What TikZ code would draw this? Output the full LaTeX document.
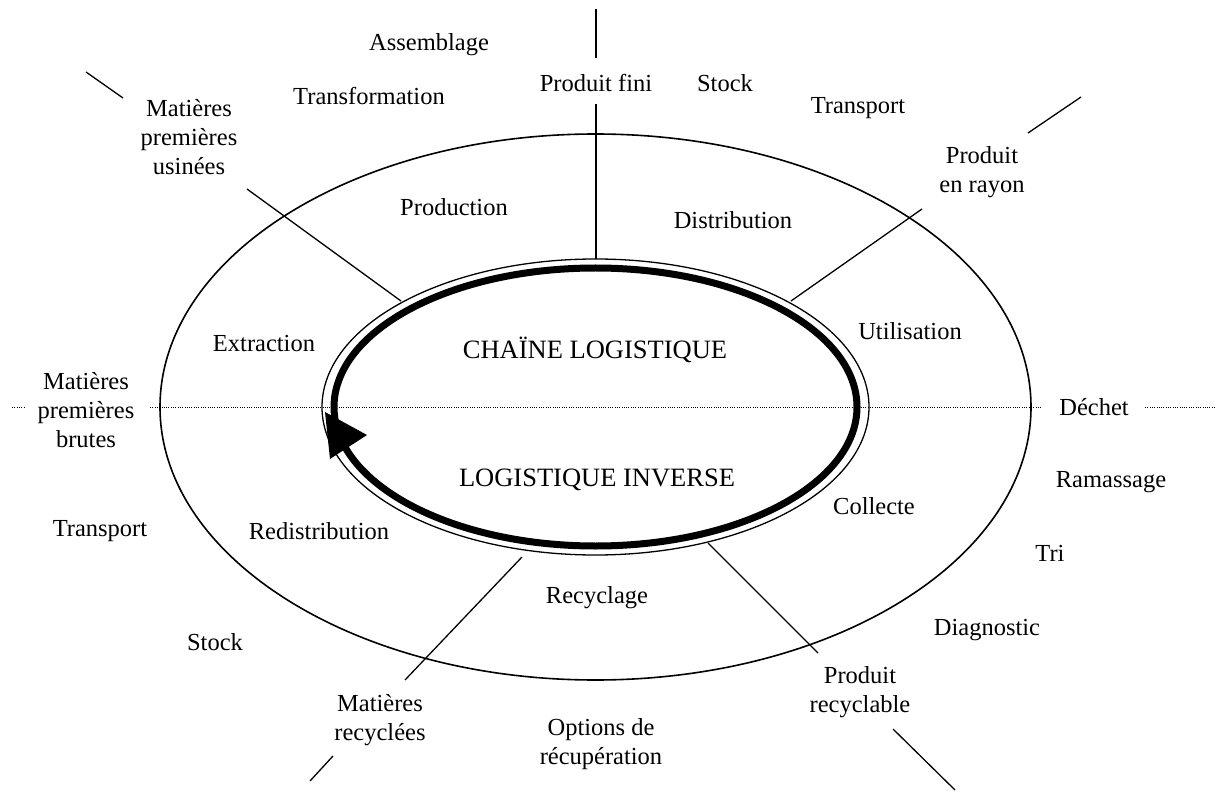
\documentclass[tikz,border=0pt]{standalone}
\usepackage{fontspec}
\setmainfont{Liberation Serif}
\begin{document}
\begin{tikzpicture}[x=1pt,y=-1pt,
  lbl/.style={font=\fontsize{24.5}{29}\selectfont, align=center, inner sep=0pt},
  biglbl/.style={font=\fontsize{26.5}{30}\selectfont, align=center, inner sep=0pt},
  spoke/.style={line width=1.3pt},
  ring/.style={line width=1.6pt},
  dotline/.style={line width=0.9pt, dash pattern=on 0.9pt off 1.4pt}
]
\useasboundingbox (0,0) rectangle (1215,791);
\fill[white] (0,0) rectangle (1215,791);
\coordinate (C) at (595.5,407);
% ellipses
\draw[ring] (C) ellipse [x radius=435.5pt, y radius=273pt];
\draw[line width=1.3pt] (C) ellipse [x radius=273.5pt, y radius=148pt];
\draw[line width=7pt] (C) ellipse [x radius=261.5pt, y radius=139pt];
\fill (325,412) -- (367,435) -- (330,459) -- cycle;
% dotted horizontal
\coordinate (d1) at (12,407); \coordinate (d2) at (24,407);
\coordinate (d3) at (150,407); \coordinate (d4) at (1041,407);
\coordinate (d5) at (1145,407); \coordinate (d6) at (1215,407);
\draw[dotline] (d1) -- (d2);
\draw[dotline] (d3) -- (d4);
\draw[dotline] (d5) -- (d6);
% spokes
\coordinate (t1) at (596,9);   \coordinate (t2) at (596,58);
\coordinate (t3) at (596,104); \coordinate (t4) at (596,259);
\coordinate (ul1) at (86,72);   \coordinate (ul2) at (123,98);
\coordinate (ul3) at (247,189); \coordinate (ul4) at (401,301);
\coordinate (ur1) at (1081,97); \coordinate (ur2) at (1028,133);
\coordinate (ur3) at (922,209); \coordinate (ur4) at (791,301);
\coordinate (lr1) at (708,543); \coordinate (lr2) at (818,653);
\coordinate (lr3) at (893,729); \coordinate (lr4) at (955,790);
\coordinate (ll1) at (522,557); \coordinate (ll2) at (405,680);
\coordinate (ll3) at (333,756); \coordinate (ll4) at (310,781);
\draw[spoke] (t1) -- (t2);  \draw[spoke] (t3) -- (t4);
\draw[spoke] (ul1) -- (ul2); \draw[spoke] (ul3) -- (ul4);
\draw[spoke] (ur1) -- (ur2); \draw[spoke] (ur3) -- (ur4);
\draw[spoke] (lr1) -- (lr2); \draw[spoke] (lr3) -- (lr4);
\draw[spoke] (ll1) -- (ll2); \draw[spoke] (ll3) -- (ll4);
% labels
\node[lbl] (assemblage) at (429,45) {Assemblage};
\node[lbl] (transformation) at (369,96) {Transformation};
\node[lbl] (produitfini) at (596,83) {Produit fini};
\node[lbl] (stocktop) at (725,83) {Stock};
\node[lbl] (transporttop) at (858,108) {Transport};
\node[lbl] (mpu) at (189,137) {Matières\\premières\\usinées};
\node[lbl] (production) at (454,207) {Production};
\node[lbl] (distribution) at (733,220) {Distribution};
\node[lbl] (rayon) at (982,172) {Produit\\en rayon};
\node[lbl] (utilisation) at (910,331) {Utilisation};
\node[lbl] (extraction) at (264,344) {Extraction};
\node[biglbl] (chaine) at (595,350) {CHAÏNE LOGISTIQUE};
\node[lbl] (mpb) at (86,410) {Matières\\premières\\brutes};
\node[lbl] (dechet) at (1094,407) {Déchet};
\node[biglbl] (inverse) at (597,480) {LOGISTIQUE INVERSE};
\node[lbl] (ramassage) at (1111,482) {Ramassage};
\node[lbl] (collecte) at (874,506) {Collecte};
\node[lbl] (transportleft) at (100,531) {Transport};
\node[lbl] (redistribution) at (319,531) {Redistribution};
\node[lbl] (tri) at (1050,553) {Tri};
\node[lbl] (recyclage) at (597,598) {Recyclage};
\node[lbl] (diagnostic) at (987,630) {Diagnostic};
\node[lbl] (stockleft) at (215,642) {Stock};
\node[lbl] (recyclable) at (860,692) {Produit\\recyclable};
\node[lbl] (recyclees) at (380,720) {Matières\\recyclées};
\node[lbl] (options) at (601,744) {Options de\\récupération};
\end{tikzpicture}
\end{document}
